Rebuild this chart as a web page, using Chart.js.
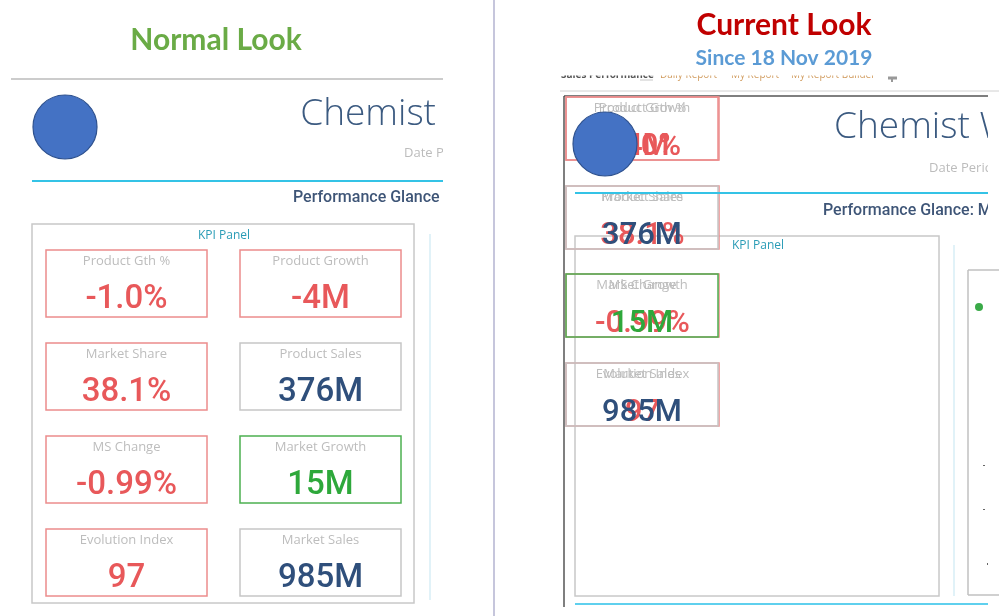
<!DOCTYPE html>
<html>
<head>
<meta charset="utf-8">
<script src="https://cdn.jsdelivr.net/npm/chart.js@4.4.1/dist/chart.umd.min.js"></script>
<style>
  html, body { margin: 0; padding: 0; background: #fff; }
  #board { display: block; }
</style>
</head>
<body>
<canvas id="board" width="999" height="616"></canvas>
<script>
// KPI cards, in panel order (left column, right column, row by row)
const kpiNames  = ['Product Gth %', 'Product Growth', 'Market Share', 'Product Sales',
                   'MS Change', 'Market Growth', 'Evolution Index', 'Market Sales'];
const kpiValues = [-1.0, -4, 38.1, 376, -0.99, 15, 97, 985];
const kpiUnits  = ['%', 'M', '%', 'M', '%', 'M', '', 'M'];
const kpiDigits = [1, 0, 1, 0, 2, 0, 0, 0];
const kpiStatus = ['bad', 'bad', 'bad', 'neutral', 'bad', 'good', 'bad', 'neutral'];

const panelTitles = ['Normal Look', 'Current Look'];
const panelSubtitle = 'Since 18 Nov 2019';
const reportTitle = ['Chemist', 'Chemist W'];
const reportSub = ['Date P', 'Date Peric'];
const glanceText = ['Performance Glance', 'Performance Glance: M'];
const tabLabels = ['Sales Performance', 'Daily Report', 'My Report', 'My Report Builder'];

const valueColor  = { bad: '#e8585a', neutral: '#2f4f7b', good: '#2ea83b' };
const borderColor = { bad: '#ec8c8c', neutral: '#c6c6c6', good: '#4cb050' };

function fmt(i) {
    return kpiValues[i].toFixed(kpiDigits[i]) + kpiUnits[i];
}

const dashboard = {
    id: 'dashboard',
    afterDraw(chart) {
        const ctx = chart.ctx;
        const sx = chart.scales.x, sy = chart.scales.y;
        const X = v => sx.getPixelForValue(v);
        const Y = v => sy.getPixelForValue(v);

        function line(x1, y1, x2, y2, color, w) {
            ctx.save();
            ctx.strokeStyle = color; ctx.lineWidth = w || 1;
            ctx.beginPath(); ctx.moveTo(X(x1), Y(y1)); ctx.lineTo(X(x2), Y(y2)); ctx.stroke();
            ctx.restore();
        }
        function rect(x, y, w, h, color, lw) {
            ctx.save();
            ctx.strokeStyle = color; ctx.lineWidth = lw || 1.5;
            ctx.strokeRect(X(x), Y(y), X(x + w) - X(x), Y(y + h) - Y(y));
            ctx.restore();
        }
        function text(s, x, y, font, color, align, clipRight) {
            ctx.save();
            if (clipRight) {
                ctx.beginPath(); ctx.rect(0, 0, X(clipRight), chart.height); ctx.clip();
            }
            ctx.font = font; ctx.fillStyle = color;
            ctx.textAlign = align || 'center'; ctx.textBaseline = 'middle';
            ctx.fillText(s, X(x), Y(y));
            ctx.restore();
        }
        function logo(cx, cy) {
            ctx.save();
            ctx.beginPath(); ctx.arc(X(cx), Y(cy), 32, 0, Math.PI * 2);
            ctx.fillStyle = '#4472c4'; ctx.fill();
            ctx.strokeStyle = '#2f528f'; ctx.lineWidth = 1.2; ctx.stroke();
            ctx.restore();
        }
        function card(i, x, y, w, h, valueSize) {
            rect(x, y, w, h, borderColor[kpiStatus[i]], 1.5);
            text(kpiNames[i], x + w / 2, y + 11, '13px "Open Sans"', '#bdbdbd');
            text(fmt(i), x + w / 2, y + 50, '500 ' + valueSize + 'px Roboto', valueColor[kpiStatus[i]]);
        }

        // ---------- left: normal look ----------
        text(panelTitles[0], 216, 40, 'bold 30px Lato', '#6aab46');
        line(11, 79, 443, 79, '#9a9a9a', 1.2);
        logo(65, 127);
        text(reportTitle[0], 436, 114, '300 37px "Open Sans"', '#3b5a80', 'right', 443);
        text(reportSub[0], 404, 153, '13px "Open Sans"', '#bcbcbc', 'left', 443);
        line(32, 181, 443, 181, '#34c3e6', 2);
        text(glanceText[0], 293, 198, '500 16px Roboto', '#3e5577', 'left', 444);

        rect(32, 224, 382, 379, '#c8c8c8', 1.5);
        text('KPI Panel', 224, 236, '12px "Open Sans"', '#2a9cb6');
        line(430, 234, 430, 600, '#d7eef6', 1.5);

        const colX = [46, 240], rowY = [250, 343, 436, 529];
        for (let i = 0; i < kpiNames.length; i++) {
            card(i, colX[i % 2], rowY[Math.floor(i / 2)], 161, 67, 33);
        }

        // divider between the two shots
        line(494, 0, 494, 616, '#c6c6dc', 2);

        // ---------- right: current look ----------
        text(panelTitles[1], 784, 25, 'bold 30px Lato', '#c00000');
        text(panelSubtitle, 784, 58, 'bold 21px Lato', '#5b9bd5');

        // half-hidden tab strip
        ctx.save();
        ctx.beginPath(); ctx.rect(X(556), Y(75.5), X(999) - X(556), Y(81) - Y(75.5)); ctx.clip();
        text(tabLabels[0], 561, 75, 'bold 10px "Open Sans"', '#555', 'left');
        text(tabLabels[1], 660, 75, '10px "Open Sans"', '#d09a5c', 'left');
        text(tabLabels[2], 731, 75, '10px "Open Sans"', '#d09a5c', 'left');
        text(tabLabels[3], 791, 75, '10px "Open Sans"', '#d09a5c', 'left');
        ctx.restore();
        line(640, 80, 653, 80, '#e3e3e3', 2);
        line(888, 78, 897, 78, '#999', 3);
        line(892, 78, 892, 82, '#999', 2);
        line(560, 91, 999, 91, '#d0d0d0', 1);

        // report frame
        line(564, 96, 988, 96, '#555', 1.5);
        line(564, 96, 564, 607, '#555', 1.5);

        text(reportTitle[1], 834, 127, '300 37px "Open Sans"', '#3b5a80', 'left', 988);
        text(reportSub[1], 929, 168, '13px "Open Sans"', '#bcbcbc', 'left', 988);
        text(glanceText[1], 823, 211, '500 16px Roboto', '#3e5577', 'left', 988);

        rect(575, 236, 364, 360, '#c8c8c8', 1.5);
        text('KPI Panel', 758, 246, '12px "Open Sans"', '#2a9cb6');
        line(954, 245, 954, 596, '#d7eef6', 1.5);
        line(968, 270, 999, 270, '#c0c0c0', 1.5);
        line(968, 270, 968, 595, '#c0c0c0', 1.5);
        line(968, 595, 999, 595, '#c0c0c0', 1.5);
        ctx.save();
        ctx.fillStyle = '#3aaa48';
        ctx.beginPath(); ctx.arc(X(979), Y(307), 4, 0, Math.PI * 2); ctx.fill();
        ctx.fillStyle = '#666';
        ctx.fillRect(X(983), Y(465), 2, 1); ctx.fillRect(X(983), Y(509), 2, 1); ctx.fillRect(X(987), Y(563), 1, 2);
        ctx.restore();

        // the collapsed cards: each row's two cards land on top of each other
        const stackY = [97, 186, 274, 363];
        for (let r = 0; r < 4; r++) {
            card(r * 2, 566, stackY[r], 153, 63, 31);
            card(r * 2 + 1, 566, stackY[r], 152, 63, 31);
        }
        line(575, 193, 988, 193, '#34c3e6', 2);
        logo(605, 144);
        line(575, 604, 988, 604, '#5fd0ee', 2);
    }
};

new Chart(document.getElementById('board'), {
    type: 'scatter',
    data: { datasets: [] },
    options: {
        responsive: false,
        animation: false,
        layout: { padding: 0 },
        plugins: { legend: { display: false }, tooltip: { enabled: false } },
        scales: {
            x: { type: 'linear', min: 0, max: 999, display: false },
            y: { type: 'linear', min: 0, max: 616, reverse: true, display: false }
        }
    },
    plugins: [dashboard]
});
</script>
</body>
</html>
